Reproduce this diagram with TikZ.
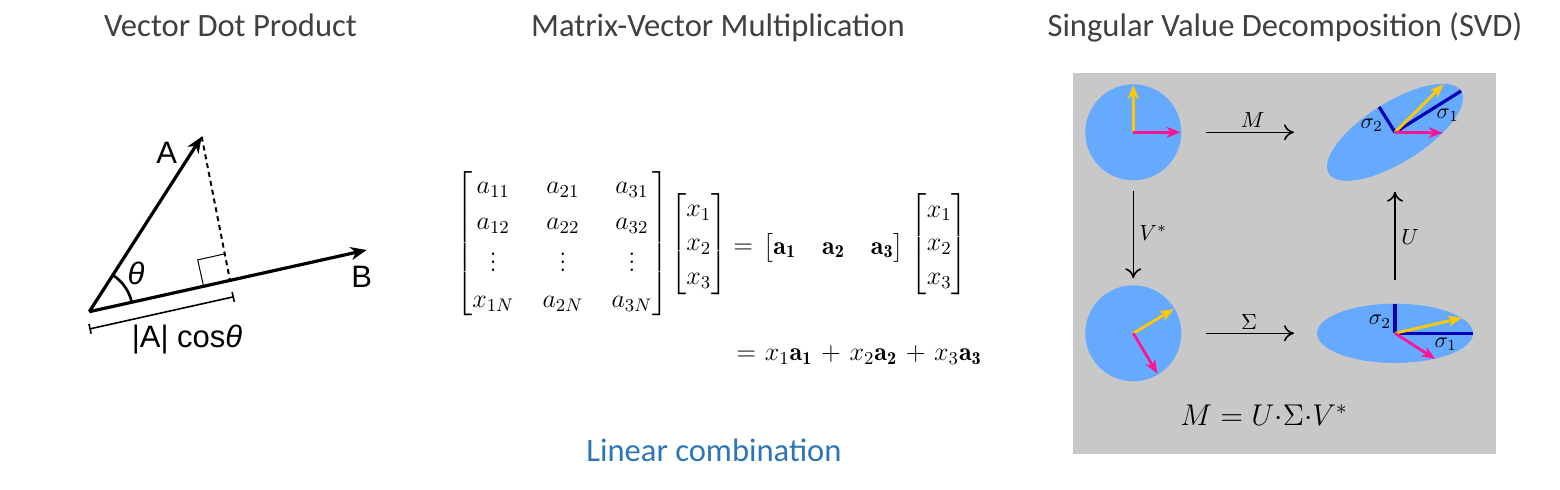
\documentclass[tikz,border=0pt]{standalone}
\usepackage{fix-cm}
\usepackage{amsmath}
\usepackage{fontspec}
\usetikzlibrary{arrows.meta}
\newfontfamily\headfont{Carlito}
\newfontfamily\helv{Liberation Sans}
\definecolor{headgray}{HTML}{404040}
\definecolor{lcblue}{HTML}{2E75B6}
\definecolor{panelgray}{HTML}{C8C8C8}
\definecolor{circblue}{HTML}{66AAFF}
\definecolor{vyellow}{HTML}{FFC800}
\definecolor{vmagenta}{HTML}{FF1493}
\definecolor{vnavy}{HTML}{0000B4}
\begin{document}
\begin{tikzpicture}[x=0.5pt,y=0.5pt,
  head/.style={font=\headfont\fontsize{16.3}{19}\selectfont, text=headgray, anchor=base, inner sep=0},
  hlab/.style={font=\helv\fontsize{15.5}{18}\selectfont, inner sep=0},
  mth/.style={font=\fontsize{13}{15.7}\selectfont, inner sep=0},
  slab/.style={font=\fontsize{11}{13}\selectfont, inner sep=0},
  bigvec/.style={line width=1.6pt, -{Stealth[length=8pt,width=6.5pt,inset=2.5pt]}},
  colvec/.style={line width=1.4pt, -{Stealth[length=7pt,width=5.5pt,inset=2.2pt]}},
  sigline/.style={line width=1.6pt, vnavy},
  maparrow/.style={line width=0.8pt, -{Computer Modern Rightarrow[length=5pt,width=8pt]}}
]
\useasboundingbox (0,0) rectangle (1560,-489);

% headings
\node[head] (h1) at (230.5,-36) {Vector Dot Product};
\node[head] (h2) at (718,-36) {Matrix-Vector Multiplication};
\node[head] (h3) at (1285,-36) {Singular Value Decomposition (SVD)};

% ---------- dot product ----------
\coordinate (O) at (89.3,-311.7);
\coordinate (At) at (201.7,-136.7);
\coordinate (Bt) at (366.7,-250);
\coordinate (F) at (230,-280.4);
\coordinate (r1) at (203.6,-286.3);
\coordinate (r2) at (197.7,-259.9);
\coordinate (r3) at (224.1,-254.0);
\draw[line width=0.5pt] (r1) -- (r2) -- (r3);
\draw[line width=1pt, dash pattern=on 2.5pt off 2pt] (At) -- (F);
\draw[bigvec] (O) -- (At);
\draw[bigvec] (O) -- (Bt);
\draw[line width=1.3pt] (O) ++(12.5:21.75pt) arc[start angle=12.5, end angle=57.3, radius=21.75pt];
\coordinate (m1) at (89.3,-329);
\coordinate (m2) at (234,-296.7);
\draw[line width=0.8pt, {Bar[width=5pt]}-{Bar[width=5pt]}] (m1) -- (m2);
\node[hlab] (lA) at (166.7,-153.3) {A};
\node[hlab] (lB) at (361.7,-276.7) {B};
\node[hlab] (lth) at (136,-273.3) {\itshape θ};
\node[hlab] (lproj) at (187,-340) {|A| cos\textit{θ}};

% ---------- matrix-vector ----------
\node[mth] (mat) at (562.3,-243.3) {$\arraycolsep=7.1pt\renewcommand{\arraystretch}{1.155}%
\begin{bmatrix} a_{11} & a_{21} & a_{31}\\ a_{12} & a_{22} & a_{32}\\ \vdots & \vdots & \vdots\\ x_{1N} & a_{2N} & a_{3N}\end{bmatrix}$};
\node[mth] (vx1) at (698.8,-244) {$\renewcommand{\arraystretch}{1.08}\begin{bmatrix} x_1\\ x_2\\ x_3\end{bmatrix}$};
\node[mth] (eq1) at (743.3,-249) {$=$};
\node[mth] (rowv) at (833.5,-247.5) {$\bigl[\mathbf{a_1}\hspace{13pt}\mathbf{a_2}\hspace{13pt}\mathbf{a_3}\bigr]$};
\node[mth] (vx2) at (939.3,-244.2) {$\renewcommand{\arraystretch}{1.08}\begin{bmatrix} x_1\\ x_2\\ x_3\end{bmatrix}$};
\node[mth, anchor=west] (lin) at (736,-355)
  {$\medmuskip=6mu\thickmuskip=6mu = x_1\mathbf{a_1} + x_2\mathbf{a_2} + x_3\mathbf{a_3}$};
\node[head, text=lcblue] (lc) at (714,-461) {Linear combination};

% ---------- SVD ----------
\fill[panelgray] (1073.3,-72.7) rectangle (1496,-454.3);
\coordinate (c1) at (1133.3,-132.3);
\coordinate (e1) at (1395,-132.3);
\coordinate (c2) at (1133.3,-333.3);
\coordinate (e2) at (1395,-333.3);
\fill[circblue] (c1) circle[radius=24pt];
\fill[circblue, rotate around={32:(e1)}] (e1) ellipse[x radius=39pt, y radius=15pt];
\fill[circblue] (c2) circle[radius=24pt];
\fill[circblue] (e2) ellipse[x radius=39pt, y radius=14.8pt];

% top-left circle
\coordinate (c1y) at (1133.3,-85);
\coordinate (c1m) at (1180.5,-132.3);
\draw[colvec, vyellow] (c1) -- (c1y);
\draw[colvec, vmagenta] (c1) -- (c1m);

% top-right ellipse
\coordinate (e1s1) at (1461.1,-91);
\coordinate (e1s2) at (1379.1,-106.9);
\coordinate (e1y) at (1443.5,-84.3);
\coordinate (e1m) at (1442.7,-132.8);
\draw[sigline] (e1) -- (e1s1);
\draw[sigline] (e1) -- (e1s2);
\draw[colvec, vyellow] (e1) -- (e1y);
\draw[colvec, vmagenta] (e1) -- (e1m);

% bottom-left circle
\coordinate (c2y) at (1173.6,-309.1);
\coordinate (c2m) at (1157.5,-373.6);
\draw[colvec, vyellow] (c2) -- (c2y);
\draw[colvec, vmagenta] (c2) -- (c2m);

% bottom-right ellipse
\coordinate (e2s1) at (1473,-333.3);
\coordinate (e2s2) at (1395,-303.8);
\coordinate (e2y) at (1461.9,-317.9);
\coordinate (e2m) at (1435.2,-359);
\draw[sigline] (e2) -- (e2s1);
\draw[sigline] (e2) -- (e2s2);
\draw[colvec, vyellow] (e2) -- (e2y);
\draw[colvec, vmagenta] (e2) -- (e2m);

% mapping arrows
\coordinate (mA) at (1206,-132.3);
\coordinate (mB) at (1294,-132.3);
\coordinate (vA) at (1133.3,-190.7);
\coordinate (vB) at (1133.3,-278.3);
\coordinate (sA) at (1206,-333.3);
\coordinate (sB) at (1294,-333.3);
\coordinate (uA) at (1395,-280);
\coordinate (uB) at (1395,-191.7);
\draw[maparrow] (mA) -- (mB);
\draw[maparrow] (vA) -- (vB);
\draw[maparrow] (sA) -- (sB);
\draw[maparrow] (uA) -- (uB);

\node[slab] (lM) at (1252.7,-120) {$M$};
\node[slab] (lV) at (1153.3,-233.3) {$V^*$};
\node[slab] (lS) at (1249,-321.7) {$\Sigma$};
\node[slab] (lU) at (1410,-236.7) {$U$};
\node[slab] (ls2a) at (1371.7,-125) {$\sigma_2$};
\node[slab] (ls1a) at (1447.7,-115) {$\sigma_1$};
\node[slab] (ls2b) at (1380,-321.7) {$\sigma_2$};
\node[slab] (ls1b) at (1445.7,-344) {$\sigma_1$};
\node[font=\fontsize{15}{18}\selectfont, inner sep=0] (svdeq) at (1264,-415) {$M = U{\cdot}\Sigma{\cdot}V^*$};
\end{tikzpicture}
\end{document}
